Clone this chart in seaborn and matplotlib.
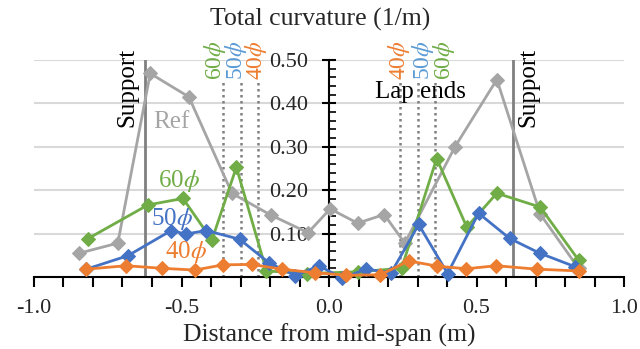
import matplotlib
matplotlib.use("Agg")
import matplotlib.pyplot as plt
import matplotlib.ticker as mticker
import matplotlib.transforms as mtrans
import numpy as np
import pandas as pd
import seaborn as sns

# ---- data ----
ref_x = [-0.846, -0.716, -0.606, -0.475, -0.329, -0.198, -0.071, 0.004, 0.097, 0.187, 0.257, 0.427, 0.569, 0.716, 0.846]
ref_y = [0.055, 0.078, 0.469, 0.415, 0.193, 0.143, 0.102, 0.157, 0.124, 0.144, 0.078, 0.300, 0.455, 0.145, 0.020]

g60_x = [-0.818, -0.614, -0.495, -0.397, -0.314, -0.212, -0.074, 0.097, 0.246, 0.365, 0.467, 0.569, 0.716, 0.846]
g60_y = [0.088, 0.166, 0.181, 0.085, 0.253, 0.014, 0.008, 0.012, 0.020, 0.273, 0.115, 0.193, 0.161, 0.039]

b50_x = [-0.823, -0.682, -0.535, -0.486, -0.416, -0.303, -0.204, -0.114, -0.034, 0.045, 0.125, 0.211, 0.304, 0.402, 0.507, 0.612, 0.714, 0.833]
b50_y = [0.018, 0.049, 0.107, 0.099, 0.107, 0.087, 0.033, 0.003, 0.026, -0.003, 0.018, 0.010, 0.121, 0.008, 0.147, 0.089, 0.055, 0.024]

o40_x = [-0.823, -0.688, -0.565, -0.455, -0.359, -0.261, -0.161, -0.049, 0.059, 0.173, 0.271, 0.366, 0.466, 0.567, 0.705, 0.846]
o40_y = [0.018, 0.026, 0.020, 0.016, 0.028, 0.029, 0.018, 0.010, 0.004, 0.005, 0.037, 0.025, 0.019, 0.026, 0.018, 0.014]

support_x = [-0.625, 0.625]
lap_x = [0.24, 0.30, 0.36]          # 40phi, 50phi, 60phi lap ends (both sides)
lap_names = ["40", "50", "60"]
lap_top = 0.455

x_ticks = [-1.0, -0.5, 0.0, 0.5, 1.0]
y_ticks = [0.0, 0.1, 0.2, 0.3, 0.4, 0.5]

C_REF = "#A5A5A5"
C_60 = "#70AD47"
C_50 = "#4472C4"
C_50L = "#5B9BD5"
C_40 = "#ED7D31"
C_SUP = "#7F7F7F"

sns.set_theme(style="white")
plt.rcParams["font.family"] = ["Liberation Serif", "DejaVu Serif"]
plt.rcParams["mathtext.fontset"] = "stix"
plt.rcParams["axes.unicode_minus"] = False

fig = plt.figure(figsize=(6.4, 3.49), dpi=100)
ax = fig.add_axes([34 / 640, 72 / 349, 590 / 640, 217 / 349])

# gridlines
for yv in y_ticks[1:]:
    ax.axhline(yv, color="#D9D9D9", lw=1.5, zorder=0)

# support lines and lap-end lines
for sx in support_x:
    ax.plot([sx, sx], [0, 0.5], color=C_SUP, lw=2, zorder=1)
for lx in lap_x:
    for s in (-1, 1):
        ax.plot([s * lx, s * lx], [0, lap_top], color="#808080", lw=1.8,
                ls=(0, (1, 1.4)), zorder=1)

series = [
    (ref_x, ref_y, C_REF),
    (g60_x, g60_y, C_60),
    (b50_x, b50_y, C_50),
    (o40_x, o40_y, C_40),
]
for xs, ys, col in series:
    df = pd.DataFrame({"x": xs, "y": ys})
    sns.lineplot(data=df, x="x", y="y", ax=ax, color=col, marker="D",
                 markersize=7, markeredgecolor=col, lw=2, estimator=None,
                 sort=False, clip_on=False, zorder=3)

ax.set_xlim(-1.0, 1.0)
ax.set_ylim(0, 0.5)
ax.set_xlabel("")
ax.set_ylabel("")

# spines
for sp in ("top", "right"):
    ax.spines[sp].set_visible(False)
ax.spines["left"].set_position(("data", 0))
ax.spines["left"].set_color("black")
ax.spines["left"].set_linewidth(1.5)
ax.spines["bottom"].set_color("black")
ax.spines["bottom"].set_linewidth(1.5)
ax.spines["left"].set_zorder(2)

ax.xaxis.set_major_locator(mticker.FixedLocator(x_ticks))
ax.xaxis.set_minor_locator(mticker.MultipleLocator(0.1))
ax.xaxis.set_major_formatter(mticker.FormatStrFormatter("%.1f"))
ax.tick_params(axis="x", which="both", direction="out", length=7, width=1.5,
               color="black", bottom=True, labelsize=16, pad=9)

ax.yaxis.set_major_locator(mticker.FixedLocator(y_ticks))
ax.yaxis.set_minor_locator(mticker.MultipleLocator(0.02))
ax.yaxis.set_major_formatter(mticker.FuncFormatter(lambda v, p: "" if abs(v) < 1e-9 else f"{v:.2f}"))
ax.tick_params(axis="y", which="major", direction="inout", length=10, width=1.5,
               color="black", left=True, labelsize=16, pad=10)
ax.tick_params(axis="y", which="minor", direction="in", length=5, width=1.2,
               color="black", left=True)
ax.grid(False)

# annotations
FS = 18
ax.text(-0.684, 0.436, "Support", rotation=90, ha="center", va="center", fontsize=FS, color="black")
ax.text(0.677, 0.436, "Support", rotation=90, ha="center", va="center", fontsize=FS, color="black")
ax.text(0.156, 0.412, "Lap ends", ha="left", va="baseline", fontsize=FS, color="black")

lap_cols = [C_40, C_50L, C_60]
left_pos = [-0.247, -0.316, -0.388]
right_pos = [0.236, 0.320, 0.390]
for name, col, lp, rp in zip(lap_names, lap_cols, left_pos, right_pos):
    ax.text(lp, lap_top, name + r"$\phi$", rotation=90, ha="center", va="bottom",
            fontsize=17, color=col)
    ax.text(rp, lap_top, name + r"$\phi$", rotation=90, ha="center", va="bottom",
            fontsize=17, color=col)

ax.text(-0.596, 0.343, "Ref", ha="left", va="baseline", fontsize=FS, color=C_REF)
ax.text(-0.579, 0.208, r"60$\phi$", ha="left", va="baseline", fontsize=FS, color=C_60)
ax.text(-0.605, 0.120, r"50$\phi$", ha="left", va="baseline", fontsize=FS, color=C_50)
ax.text(-0.555, 0.043, r"40$\phi$", ha="left", va="baseline", fontsize=FS, color=C_40)

fig.text(0.5, 1 - 26 / 349, "Total curvature (1/m)", ha="center", va="baseline", fontsize=18.5)
trans = mtrans.blended_transform_factory(ax.transData, fig.transFigure)
ax.text(0.0, 7.3 / 349, "Distance from mid-span (m)", transform=trans,
        ha="center", va="baseline", fontsize=18.5)

fig.savefig("out.png", dpi=100)
